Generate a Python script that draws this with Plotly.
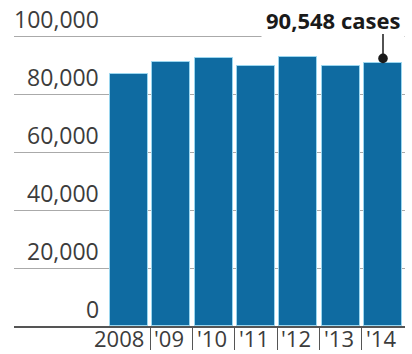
import plotly.graph_objects as go

years = [0, 1, 2, 3, 4, 5, 6]
year_labels = ["2008", "'09", "'10", "'11", "'12", "'13", "'14"]
cases = [87000, 90900, 92300, 89600, 92600, 89500, 90548]
y_ticks = [0, 20000, 40000, 60000, 80000, 100000]
y_tick_labels = ["0", "20,000", "40,000", "60,000", "80,000", "100,000"]
callout = "90,548 cases"

BAR = "#0f6ba1"
TXT = "#3c3c3c"
FONT = "Open Sans"

fig = go.Figure()
fig.add_trace(go.Bar(
    x=years, y=cases,
    marker=dict(color=BAR, line=dict(color="#9ad6ef", width=1)),
    width=0.9, hoverinfo="skip",
))

anns = []
for v, t in zip(y_ticks, y_tick_labels):
    anns.append(dict(xref="paper", yref="y", x=0.22, y=v, text=t,
                     xanchor="right", yanchor="bottom", showarrow=False,
                     font=dict(family=FONT, size=23, color=TXT), borderpad=0))
for i, t in zip(years, year_labels):
    if i == 0:
        anns.append(dict(xref="x", yref="paper", x=i + 0.5, y=0, text=t,
                         xanchor="right", yanchor="top", xshift=-5, yshift=4,
                         borderpad=0,
                         showarrow=False, font=dict(family=FONT, size=22, color=TXT)))
    else:
        anns.append(dict(xref="x", yref="paper", x=i - 0.5, y=0, text=t,
                         xanchor="left", yanchor="top", xshift=3, yshift=4,
                         borderpad=0,
                         showarrow=False, font=dict(family=FONT, size=22, color=TXT)))

# callout text
anns.append(dict(xref="paper", yref="y", x=1, y=y_ticks[-1], text="<b>" + callout + "</b>",
                 xanchor="right", yanchor="bottom", yshift=-4, showarrow=False,
                 bgcolor="white", borderpad=4,
                 font=dict(family=FONT, size=22, color="#1a1a1a")))
# callout pointer
anns.append(dict(xref="x", yref="y", x=years[-1], y=cases[-1], text="",
                 showarrow=True, ax=0, ay=-31, arrowhead=6, arrowsize=1.6,
                 arrowwidth=1.5, arrowcolor="#1a1a1a", standoff=5))

fig.update_layout(
    width=412, height=354,
    margin=dict(l=14, r=7, t=7, b=28),
    paper_bgcolor="white", plot_bgcolor="white",
    showlegend=False,
    bargap=0,
    xaxis=dict(range=[-2.72, 6.52], tickvals=[i + 0.5 for i in years[:-1]],
               ticktext=["" for _ in years[:-1]], ticks="outside", ticklen=22,
               tickcolor="#555", tickwidth=1, showline=True, linecolor="#555",
               linewidth=1.5, showgrid=False, zeroline=False, fixedrange=True),
    yaxis=dict(range=[0, 110000], tickvals=y_ticks, showticklabels=False,
               showgrid=True, gridcolor="#aaaaaa", gridwidth=1, zeroline=False,
               fixedrange=True),
    annotations=anns,
)

fig.write_html("out.html")
